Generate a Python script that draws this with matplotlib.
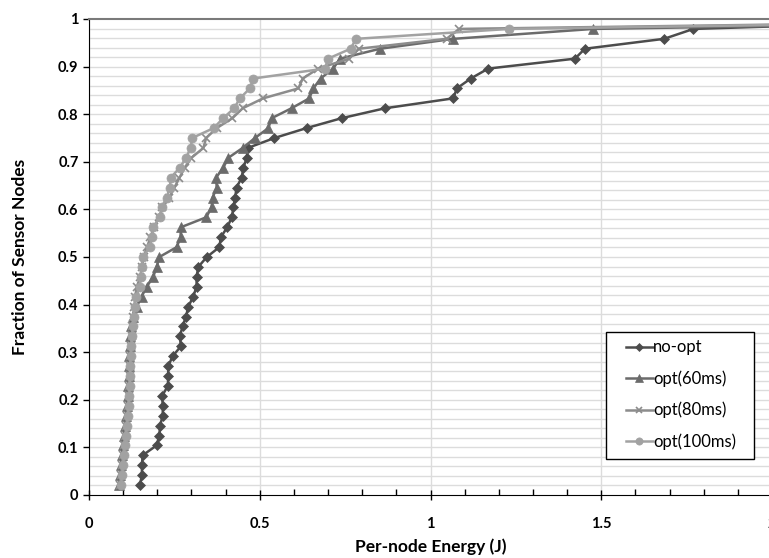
import numpy as np
import matplotlib
matplotlib.use('Agg')
import matplotlib.pyplot as plt
from matplotlib.ticker import MultipleLocator, FuncFormatter
from matplotlib.patches import Rectangle

plt.rcParams['font.family'] = ['Lato', 'DejaVu Sans']

# per-node energy (J), nodes in rank order (48 nodes per run)
no_opt = [0.149, 0.155, 0.155, 0.157, 0.198, 0.206, 0.208, 0.216, 0.216, 0.214,
          0.231, 0.232, 0.232, 0.245, 0.269, 0.266, 0.274, 0.284, 0.291, 0.305,
          0.315, 0.315, 0.32, 0.345, 0.382, 0.386, 0.405, 0.418, 0.423, 0.428,
          0.432, 0.447, 0.452, 0.462, 0.465, 0.543, 0.637, 0.74, 0.867, 1.067,
          1.077, 1.118, 1.169, 1.423, 1.452, 1.684, 1.77, 2.7]
opt_60 = [0.088, 0.092, 0.094, 0.096, 0.099, 0.102, 0.106, 0.109, 0.111, 0.113,
          0.115, 0.116, 0.117, 0.118, 0.120, 0.121, 0.124, 0.128, 0.140, 0.154,
          0.169, 0.188, 0.198, 0.206, 0.257, 0.268, 0.269, 0.343, 0.359, 0.362,
          0.374, 0.372, 0.393, 0.408, 0.45, 0.486, 0.525, 0.535, 0.593, 0.645,
          0.657, 0.678, 0.715, 0.735, 0.852, 1.067, 1.477, 3.3]
opt_80 = [0.090, 0.094, 0.097, 0.099, 0.102, 0.105, 0.109, 0.112, 0.114, 0.116,
          0.118, 0.119, 0.120, 0.121, 0.123, 0.125, 0.127, 0.130, 0.133, 0.135,
          0.14, 0.15, 0.155, 0.16, 0.17, 0.18, 0.19, 0.205, 0.215, 0.235,
          0.25, 0.265, 0.28, 0.30, 0.335, 0.343, 0.374, 0.42, 0.45, 0.51,
          0.613, 0.626, 0.671, 0.762, 0.79, 1.047, 1.084, 3.2]
opt_100 = [0.093, 0.097, 0.100, 0.102, 0.105, 0.108, 0.111, 0.114, 0.116, 0.118,
           0.119, 0.120, 0.121, 0.122, 0.124, 0.126, 0.128, 0.131, 0.134, 0.138,
           0.149, 0.151, 0.154, 0.157, 0.179, 0.184, 0.188, 0.208, 0.213, 0.227,
           0.237, 0.239, 0.266, 0.284, 0.298, 0.302, 0.365, 0.393, 0.425, 0.442,
           0.471, 0.481, 0.691, 0.70, 0.766, 0.782, 1.231, 3.2]

series = [
    ('no-opt', no_opt, '#4c4c4c', 'D', 5),
    ('opt(60ms)', opt_60, '#6b6b6b', '^', 7),
    ('opt(80ms)', opt_80, '#8c8c8c', 'x', 6),
    ('opt(100ms)', opt_100, '#a2a2a2', 'o', 6.5),
]

fig = plt.figure(figsize=(7.69, 5.58), dpi=100)
ax = fig.add_axes([89 / 769, 63 / 558, 683 / 769, 476 / 558])

for label, vals, color, marker, ms in series:
    frac = np.arange(1, len(vals) + 1) / len(vals)
    ax.plot(vals, frac, color=color, linewidth=1.8, marker=marker, markersize=ms,
            markeredgewidth=1.2 if marker == 'x' else 0.5, label=label, zorder=3)

ax.set_xlim(0, 2)
ax.set_ylim(0, 1)
ax.xaxis.set_major_locator(MultipleLocator(0.5))
ax.xaxis.set_minor_locator(MultipleLocator(0.1))
ax.yaxis.set_major_locator(MultipleLocator(0.1))
fmt = FuncFormatter(lambda v, pos: '%g' % round(v, 2))
ax.xaxis.set_major_formatter(fmt)
ax.yaxis.set_major_formatter(fmt)

ax.tick_params(axis='y', which='major', direction='out', length=4, width=1, labelsize=10.5)
ax.tick_params(axis='x', which='major', direction='inout', length=7, width=1, labelsize=10.5, pad=12)
ax.tick_params(axis='x', which='minor', direction='in', length=4, width=1)
for t in ax.get_xticklabels() + ax.get_yticklabels():
    t.set_fontweight('bold')

# horizontal grid every 0.02, vertical grid on the 0.5 ticks
ax.hlines(np.arange(0.02, 1.0, 0.02), 0, 2, color='#dcdcdc', linewidth=1.0, zorder=0)
ax.xaxis.grid(True, which='major', color='#dcdcdc', linewidth=1.0)
ax.set_axisbelow(True)

ax.spines['left'].set_color('black')
ax.spines['bottom'].set_color('black')
ax.spines['top'].set_color('#7a7a7a')
ax.spines['top'].set_linewidth(1.5)
ax.spines['right'].set_visible(False)

ax.set_xlabel('Per-node Energy (J)', fontsize=12.5, fontweight='bold', labelpad=6)
ax.set_ylabel('Fraction of Sensor Nodes', fontsize=12.5, fontweight='bold', labelpad=22)

# legend frame drawn separately so the inner padding can match
ax.add_patch(Rectangle((0.757, 0.0756), 0.2167, 0.2668, transform=ax.transAxes,
                       facecolor='white', edgecolor='black', linewidth=1.0, zorder=4))
leg = ax.legend(loc='upper left', bbox_to_anchor=(0.786, 0.327), frameon=False,
                fontsize=12, handlelength=1.6, handletextpad=0.05, labelspacing=0.9,
                borderpad=0, borderaxespad=0, markerscale=0.8)
leg.set_zorder(5)

fig.savefig('out.png', dpi=100)
